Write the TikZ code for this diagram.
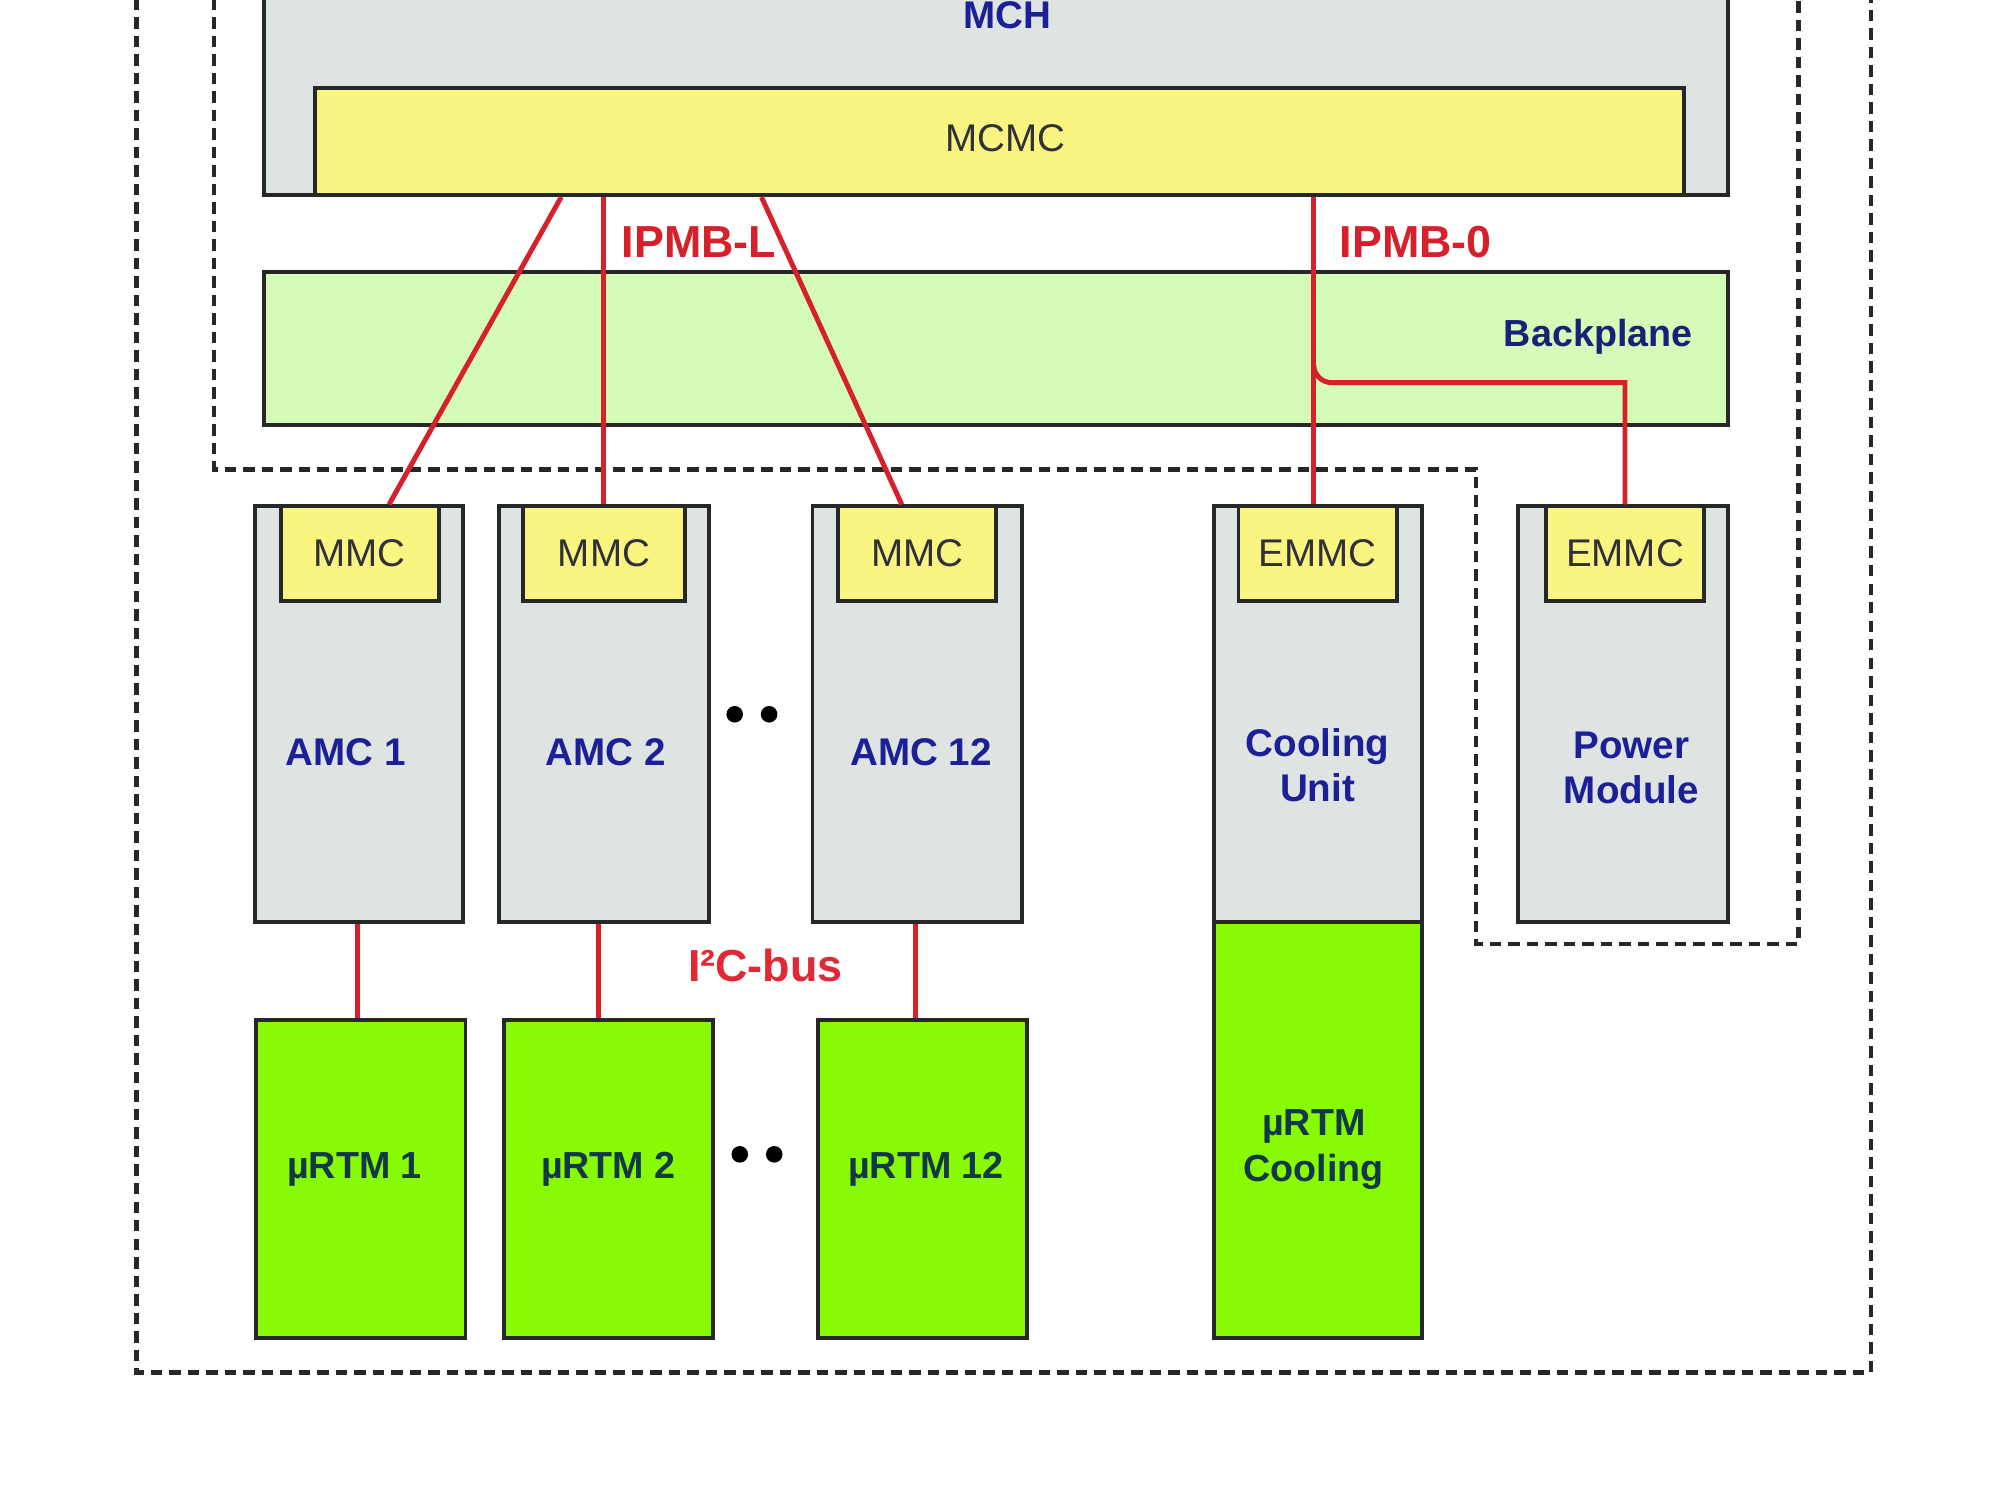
\documentclass[tikz,border=0pt]{standalone}
\usepackage{fontspec}
\setmainfont{Liberation Sans}
\usetikzlibrary{fit,calc}

\definecolor{edge}{RGB}{38,40,40}
\definecolor{panel}{RGB}{222,228,226}
\definecolor{chip}{RGB}{249,245,128}
\definecolor{plane}{RGB}{212,251,184}
\definecolor{rtm}{RGB}{136,250,4}
\definecolor{bus}{RGB}{214,32,44}
\definecolor{lbl}{RGB}{28,32,150}
\definecolor{rtmtext}{RGB}{18,56,72}
\definecolor{chiptext}{RGB}{48,48,56}

\tikzset{
  blk/.style={draw=edge, line width=0.85pt, inner sep=0pt, fill=#1},
  busline/.style={draw=bus, line width=1.1pt},
  boundary/.style={draw=edge, line width=0.95pt, dash pattern=on 0.09cm off 0.055cm},
  unitlabel/.style={font=\bfseries\fontsize{8.6}{10}\selectfont, text=lbl, align=center, inner sep=0pt},
  chiplabel/.style={font=\fontsize{8.6}{10}\selectfont, text=chiptext, inner sep=0pt},
  rtmlabel/.style={font=\bfseries\fontsize{8.4}{10.2}\selectfont, text=rtmtext, align=center, inner sep=0pt},
  buslabel/.style={font=\bfseries\fontsize{10}{12}\selectfont, text=bus, inner sep=0pt},
  dotmark/.style={circle, fill=black, inner sep=0pt, minimum size=0.13cm}
}

\begin{document}
\begin{tikzpicture}[x=0.01cm, y=-0.01cm]
  \useasboundingbox (0,0) rectangle (1568,1176);
  \clip (0,0) rectangle (1568,1176);
  \fill[white] (0,0) rectangle (1568,1176);

  % chassis boundaries
  \draw[boundary] (107,-30) -- (107,1076) -- (1467,1076) -- (1467,-30);
  \draw[boundary] (168,-30) -- (168,368) -- (1157,368) -- (1157,740) -- (1410,740) -- (1410,-30);

  % MCH with its carrier management controller
  \node[blk=panel, fit={(207,-40) (1355,153)}] (mch) {};
  \node[unitlabel] (mchlbl) at (790,12) {MCH};
  \node[blk=chip, fit={(247,69) (1320,153)}] (mcmc) {};
  \node[chiplabel] (mcmclbl) at (788,108) {MCMC};

  % backplane
  \node[blk=plane, fit={(207,213) (1355,333)}] (bp) {};
  \node[unitlabel, font=\bfseries\fontsize{8.4}{10}\selectfont, text={rgb,255:red,20;green,34;blue,120}] (bplbl) at (1253,264) {Backplane};

  % AMC modules
  \node[blk=panel, fit={(200,397) (363,723)}] (amc1) {};
  \node[blk=panel, fit={(391,397) (556,723)}] (amc2) {};
  \node[blk=panel, fit={(637,397) (801,723)}] (amc12) {};
  \node[blk=chip, fit={(220,397) (344,471)}] (mmc1) {};
  \node[blk=chip, fit={(410,397) (537,471)}] (mmc2) {};
  \node[blk=chip, fit={(657,397) (781,471)}] (mmc12) {};
  \node[chiplabel] at (mmc1.center) {MMC};
  \node[chiplabel] at (mmc2.center) {MMC};
  \node[chiplabel] at (mmc12.center) {MMC};
  \node[unitlabel] (amc1lbl) at (271,590) {AMC 1};
  \node[unitlabel] (amc2lbl) at (475,590) {AMC 2};
  \node[unitlabel] (amc12lbl) at (722,590) {AMC 12};

  % cooling unit and power module
  \node[blk=panel, fit={(952,397) (1115,723)}] (cu) {};
  \node[blk=rtm, fit={(952,723) (1115,1049)}] (rtmcu) {};
  \node[blk=chip, fit={(971,397) (1095,471)}] (emmc1) {};
  \node[chiplabel] at (emmc1.center) {EMMC};
  \node[unitlabel] (culbl) at (1033,600) {Cooling\\Unit};
  \node[rtmlabel] (rtmculbl) at (1030,901) {µRTM\\Cooling};

  \node[blk=panel, fit={(1190,397) (1355,723)}] (pm) {};
  \node[blk=chip, fit={(1212,397) (1336,471)}] (emmc2) {};
  \node[chiplabel] at (emmc2.center) {EMMC};
  \node[unitlabel] (pmlbl) at (1279,602) {Power\\Module};

  % rear transition modules
  \node[blk=rtm, fit={(201,800) (365,1049)}] (rtm1) {};
  \node[blk=rtm, fit={(395,800) (559,1049)}] (rtm2) {};
  \node[blk=rtm, fit={(641,800) (805,1049)}] (rtm12) {};
  \node[rtmlabel] at (278,917) {µRTM 1};
  \node[rtmlabel] at (477,917) {µRTM 2};
  \node[rtmlabel] at (726,917) {µRTM 12};

  % ellipsis between slots
  \node[dotmark] (d1) at (576,560) {};
  \node[dotmark] (d2) at (603,560) {};
  \node[dotmark] (d3) at (580,905) {};
  \node[dotmark] (d4) at (607,905) {};

  % IPMB-L links
  \draw[busline] (mcmc.south -| 440,0) -- (mmc1.north -| 305,0);
  \draw[busline] (mcmc.south -| 473,0) -- (mmc2.north -| 473,0);
  \draw[busline] (mcmc.south -| 597,0) -- (mmc12.north -| 707,0);
  \node[buslabel] (ipmbl) at (548,190) {IPMB-L};

  % IPMB-0 link with branch to the power module
  \draw[busline] (mcmc.south -| 1030,0) -- (emmc1.north -| 1030,0);
  \coordinate (split) at (1030,286);
  \draw[busline] (split) to[out=-90,in=180] (1044,300) -- (emmc2.north |- 0,300) -- (emmc2.north);
  \node[buslabel] (ipmb0) at (1110,190) {IPMB-0};

  % I2C links to the rear modules
  \draw[busline] (amc1.south -| 280,0) -- (rtm1.north -| 280,0);
  \draw[busline] (amc2.south -| 469,0) -- (rtm2.north -| 469,0);
  \draw[busline] (amc12.south -| 718,0) -- (rtm12.north -| 718,0);
  \node[buslabel, text={rgb,255:red,226;green,40;blue,52}] (i2c) at (600,757) {I²C-bus};
\end{tikzpicture}
\end{document}
